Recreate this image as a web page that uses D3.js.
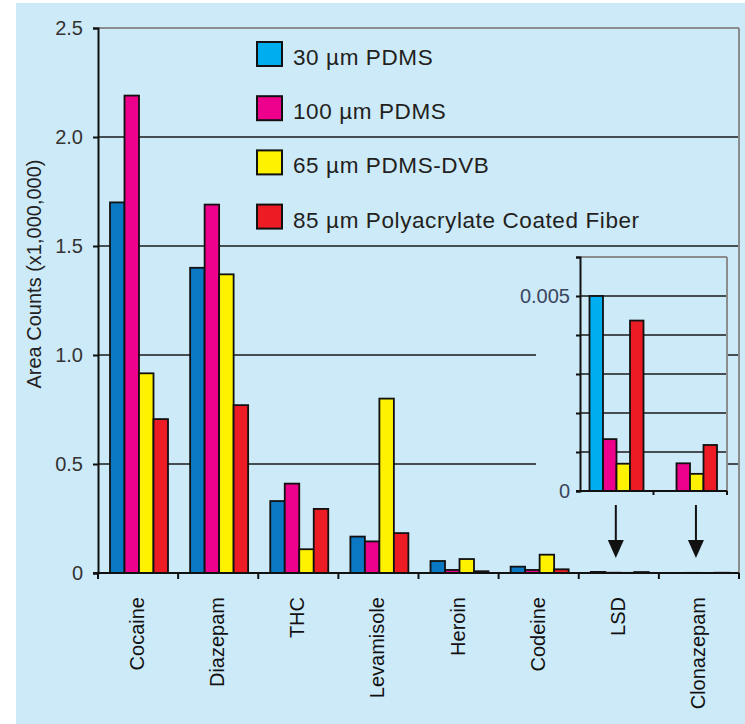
<!DOCTYPE html>
<html>
<head>
<meta charset="utf-8">
<script src="https://cdn.jsdelivr.net/npm/d3@7"></script>
<style>
  html, body { margin: 0; padding: 0; background: #ffffff; }
  svg { display: block; }
  text { font-family: "Liberation Sans", Arial, sans-serif; }
</style>
</head>
<body>
<svg id="chart" width="745" height="724"></svg>
<script>
// ---------------- data ----------------
const categories = ["Cocaine", "Diazepam", "THC", "Levamisole", "Heroin", "Codeine", "LSD", "Clonazepam"];
const seriesNames = ["30 µm PDMS", "100 µm PDMS", "65 µm PDMS-DVB", "85 µm Polyacrylate Coated Fiber"];
const pdms30 =         [1.70, 1.40, 0.33, 0.167, 0.055, 0.029, 0.0050, 0];
const pdms100 =        [2.19, 1.69, 0.41, 0.145, 0.014, 0.014, 0.00133, 0.00071];
const pdmsDvb65 =      [0.916, 1.37, 0.109, 0.80, 0.064, 0.084, 0.0007, 0.00044];
const polyacrylate85 = [0.706, 0.77, 0.294, 0.183, 0.008, 0.017, 0.00437, 0.00118];
const mainTicks = [0, 0.5, 1.0, 1.5, 2.0, 2.5];
const insetCategories = ["LSD", "Clonazepam"];
const insetTicks = [0, 0.001, 0.002, 0.003, 0.004, 0.005, 0.006];
const insetTickLabels = ["0", "", "", "", "", "0.005", ""];
const yAxisTitle = "Area Counts (x1,000,000)";

const seriesValues = [pdms30, pdms100, pdmsDvb65, polyacrylate85];
const mainColors = ["#0a78c3", "#ec008c", "#fff200", "#ed1c24"];
const insetColors = ["#00aeef", "#ec008c", "#fff200", "#ed1c24"];
const bg = "#cdeaf8";

// ---------------- layout ----------------
const svg = d3.select("#chart");
svg.append("rect").attr("x", 16).attr("y", 3).attr("width", 729).attr("height", 721).attr("fill", bg);

const x0 = d3.scaleBand().domain(categories).range([98, 739]);
const x1 = d3.scaleBand().domain(d3.range(seriesNames.length)).range([12, 70]);
const y = d3.scaleLinear().domain([0, 2.5]).range([573, 28]);

// gridlines
const grid = svg.append("g");
grid.selectAll("line.g").data(mainTicks.filter(t => t > 0 && t < 2.5)).join("line")
  .attr("x1", 98).attr("x2", 739).attr("y1", d => y(d)).attr("y2", d => y(d))
  .attr("stroke", "#1a1a1a").attr("stroke-width", 1.6);
// top & right frame (gray)
svg.append("line").attr("x1", 98).attr("x2", 739).attr("y1", y(2.5)).attr("y2", y(2.5))
  .attr("stroke", "#8c8c8c").attr("stroke-width", 2);
svg.append("line").attr("x1", 739).attr("x2", 739).attr("y1", y(2.5)).attr("y2", y(0))
  .attr("stroke", "#8c8c8c").attr("stroke-width", 2);

// main bars
const barData = [];
categories.forEach((c, i) => {
  seriesValues.forEach((arr, s) => barData.push({ c, s, v: arr[i] }));
});
svg.append("g").selectAll("rect").data(barData.filter(d => d.v > 0)).join("rect")
  .attr("x", d => x0(d.c) + x1(d.s))
  .attr("width", x1.bandwidth())
  .attr("y", d => y(d.v))
  .attr("height", d => y(0) - y(d.v))
  .attr("fill", d => mainColors[d.s])
  .attr("stroke", "#111").attr("stroke-width", 1.8);

// y axis
const yAxis = svg.append("g").attr("transform", "translate(98,0)")
  .call(d3.axisLeft(y).tickValues(mainTicks).tickSize(5).tickPadding(10)
    .tickFormat(d => d === 0 ? "0" : d3.format(".1f")(d)));
yAxis.select(".domain").attr("stroke", "#111").attr("stroke-width", 2);
yAxis.selectAll(".tick line").attr("stroke", "#111").attr("stroke-width", 2);
yAxis.selectAll(".tick text").attr("font-size", 20).attr("fill", "#333")
  .attr("font-family", "'Liberation Sans', Arial, sans-serif");

// x axis
const xa = svg.append("g");
xa.append("line").attr("x1", 93).attr("x2", 739).attr("y1", y(0)).attr("y2", y(0))
  .attr("stroke", "#111").attr("stroke-width", 2);
const bounds = categories.map(c => x0(c)).concat([x0.range()[1]]);
xa.selectAll("line.t").data(bounds).join("line")
  .attr("x1", d => d).attr("x2", d => d).attr("y1", y(0)).attr("y2", y(0) + 6)
  .attr("stroke", "#111").attr("stroke-width", 2);
xa.selectAll("text").data(categories).join("text")
  .attr("transform", d => `translate(${x0(d) + x0.bandwidth() / 2 + 6},597) rotate(-90)`)
  .attr("text-anchor", "end").attr("font-size", 20).attr("fill", "#111")
  .text(d => d);

// y axis title
svg.append("text")
  .attr("transform", "translate(41,274) rotate(-90)")
  .attr("text-anchor", "middle").attr("font-size", 20).attr("fill", "#222")
  .text(yAxisTitle);

// legend
const lg = svg.append("g");
seriesNames.forEach((n, i) => {
  const ty = 42 + i * 54.2;
  lg.append("rect").attr("x", 257).attr("y", ty).attr("width", 25).attr("height", 24)
    .attr("fill", insetColors[i]).attr("stroke", "#111").attr("stroke-width", 2);
  lg.append("text").attr("x", 293).attr("y", ty + 23)
    .attr("font-family", "'Open Sans', sans-serif").attr("font-size", 22.5).attr("fill", "#231f20")
    .attr("letter-spacing", 0.6)
    .text(n);
});

// ---------------- inset ----------------
const xi = d3.scaleBand().domain(insetCategories).range([580, 727]);
const xi1 = d3.scaleBand().domain(d3.range(seriesNames.length)).range([9.5, 63.5]);
const yi = d3.scaleLinear().domain([0, 0.006]).range([491, 257]);

svg.append("rect").attr("x", 536).attr("y", 250).attr("width", 191).attr("height", 250).attr("fill", bg);
svg.append("g").selectAll("line").data(insetTicks.filter(t => t > 0 && t < 0.006)).join("line")
  .attr("x1", 580).attr("x2", 727).attr("y1", d => yi(d)).attr("y2", d => yi(d))
  .attr("stroke", "#1a1a1a").attr("stroke-width", 1.6);
svg.append("line").attr("x1", 580).attr("x2", 727).attr("y1", yi(0.006)).attr("y2", yi(0.006))
  .attr("stroke", "#8c8c8c").attr("stroke-width", 2);
svg.append("line").attr("x1", 727).attr("x2", 727).attr("y1", yi(0.006)).attr("y2", yi(0))
  .attr("stroke", "#8c8c8c").attr("stroke-width", 2);

const insetData = [];
insetCategories.forEach(c => {
  const i = categories.indexOf(c);
  seriesValues.forEach((arr, s) => insetData.push({ c, s, v: arr[i] }));
});
svg.append("g").selectAll("rect").data(insetData.filter(d => d.v > 0)).join("rect")
  .attr("x", d => xi(d.c) + xi1(d.s))
  .attr("width", xi1.bandwidth())
  .attr("y", d => yi(d.v))
  .attr("height", d => yi(0) - yi(d.v))
  .attr("fill", d => insetColors[d.s])
  .attr("stroke", "#111").attr("stroke-width", 1.8);

const yiAxis = svg.append("g").attr("transform", "translate(580,0)")
  .call(d3.axisLeft(yi).tickValues(insetTicks).tickSize(4).tickPadding(6)
    .tickFormat((d, i) => insetTickLabels[i]));
yiAxis.select(".domain").attr("stroke", "#111").attr("stroke-width", 2);
yiAxis.selectAll(".tick line").attr("stroke", "#111").attr("stroke-width", 2);
yiAxis.selectAll(".tick text").attr("font-size", 20).attr("fill", "#3a4660")
  .attr("font-family", "'Liberation Sans', Arial, sans-serif");

svg.append("line").attr("x1", 576).attr("x2", 727).attr("y1", yi(0)).attr("y2", yi(0))
  .attr("stroke", "#111").attr("stroke-width", 2);
svg.selectAll("line.it").data(insetCategories.slice(1).map(c => xi(c)).concat([xi.range()[1]])).join("line")
  .attr("x1", d => d).attr("x2", d => d).attr("y1", yi(0)).attr("y2", yi(0) + 4)
  .attr("stroke", "#111").attr("stroke-width", 2);

// arrows from inset down to LSD / Clonazepam
const ar = svg.append("g");
insetCategories.forEach(c => {
  const ax = x0(c) + x0.bandwidth() / 2 - 3;
  ar.append("line").attr("x1", ax).attr("x2", ax).attr("y1", 505).attr("y2", 545)
    .attr("stroke", "#111").attr("stroke-width", 2);
  ar.append("path").attr("d", `M${ax - 8},540 L${ax + 8},540 L${ax},558 Z`).attr("fill", "#111");
});
</script>
</body>
</html>
